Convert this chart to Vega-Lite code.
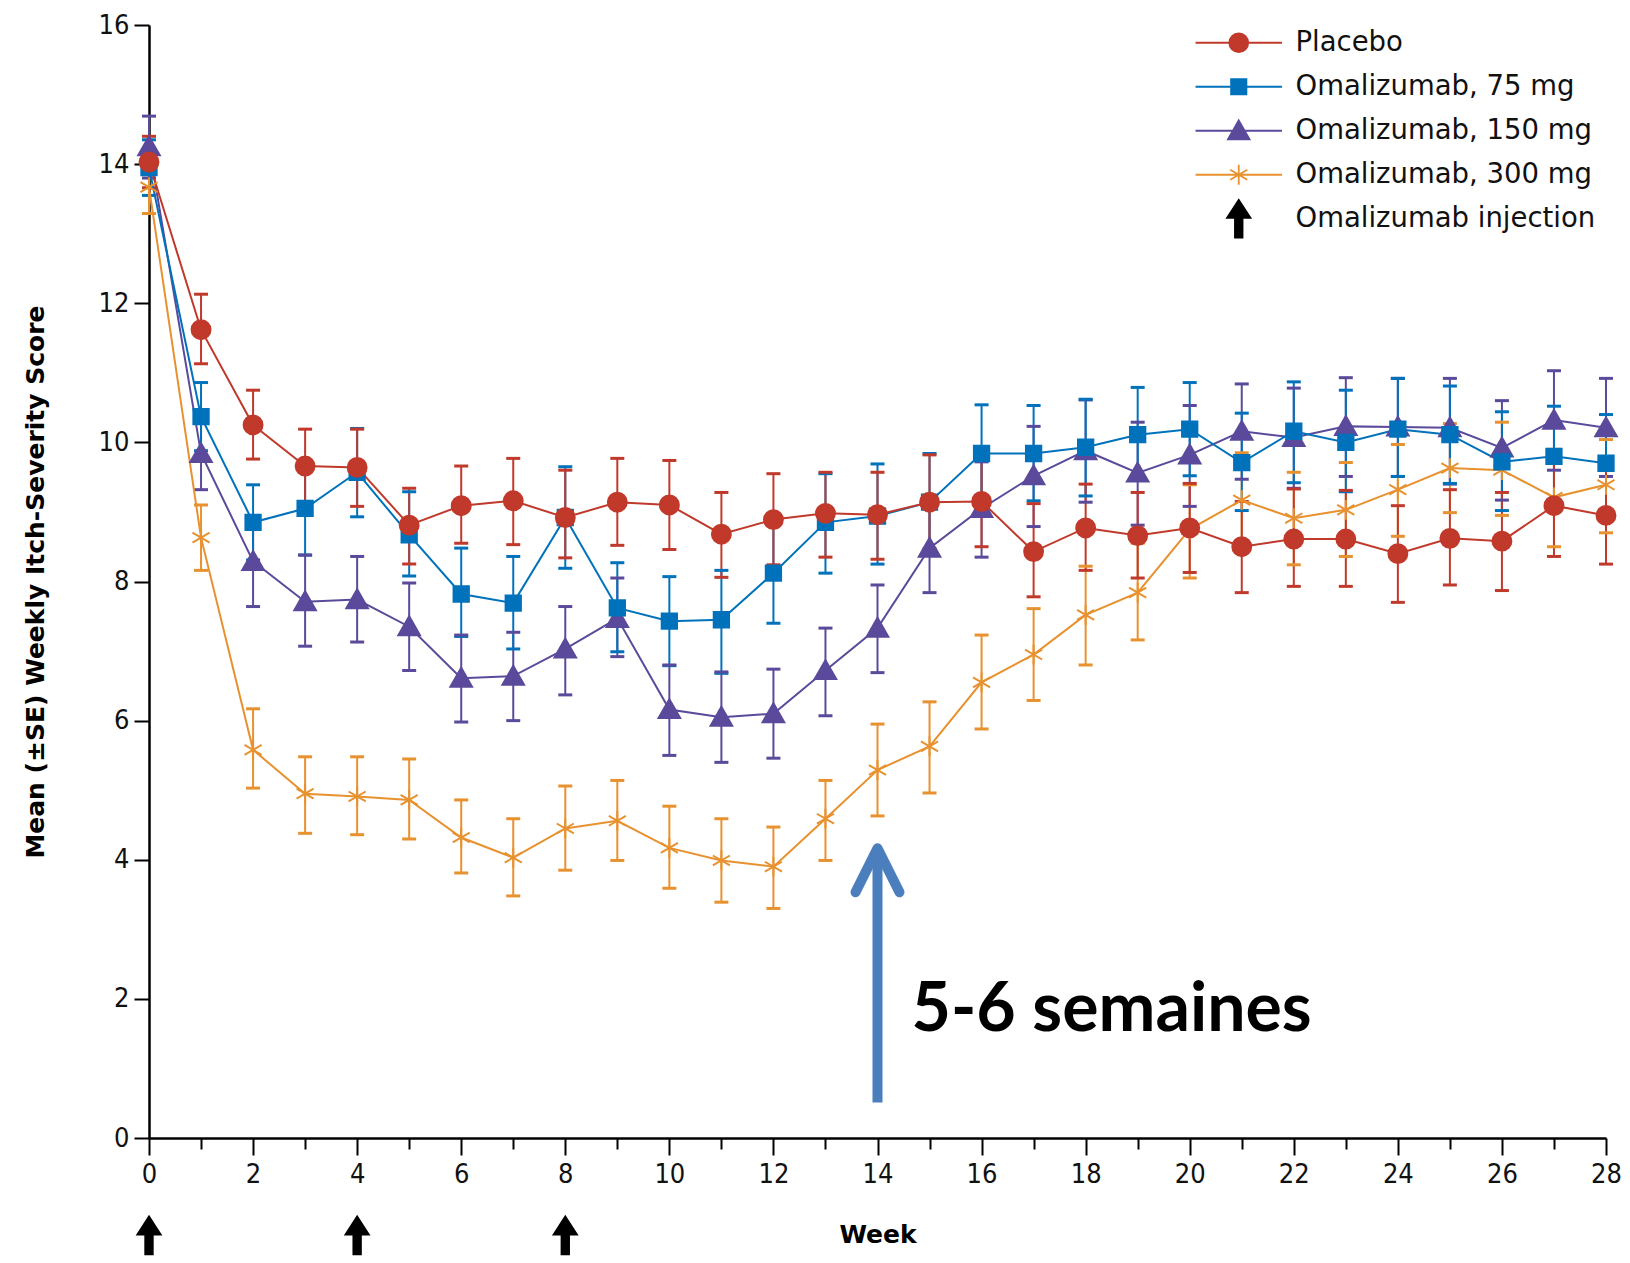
{
  "$schema": "https://vega.github.io/schema/vega-lite/v6.json",
  "width": 1457,
  "height": 1113,
  "autosize": {"type": "none"},
  "padding": {"left": 149, "top": 25, "right": 24, "bottom": 125},
  "background": "white",
  "config": {
    "view": {"stroke": null},
    "font": "DejaVu Sans",
    "axis": {
      "domainColor": "#000000", "domainWidth": 2.5, "tickColor": "#000000", "tickWidth": 2,
      "labelColor": "#111111", "labelFont": "DejaVu Sans Condensed, DejaVu Sans", "labelFontSize": 27,
      "titleFont": "DejaVu Sans", "titleFontWeight": "bold", "titleFontSize": 25, "titleColor": "#000000",
      "grid": false
    }
  },
  "datasets": {
    "d": [
      {"w":0,"g":"Omalizumab, 300 mg","m":13.67,"lo":13.29,"hi":14.05},
      {"w":1,"g":"Omalizumab, 300 mg","m":8.63,"lo":8.16,"hi":9.10},
      {"w":2,"g":"Omalizumab, 300 mg","m":5.58,"lo":5.03,"hi":6.17},
      {"w":3,"g":"Omalizumab, 300 mg","m":4.95,"lo":4.38,"hi":5.48},
      {"w":4,"g":"Omalizumab, 300 mg","m":4.91,"lo":4.36,"hi":5.48},
      {"w":5,"g":"Omalizumab, 300 mg","m":4.86,"lo":4.30,"hi":5.45},
      {"w":6,"g":"Omalizumab, 300 mg","m":4.32,"lo":3.81,"hi":4.86},
      {"w":7,"g":"Omalizumab, 300 mg","m":4.03,"lo":3.48,"hi":4.59},
      {"w":8,"g":"Omalizumab, 300 mg","m":4.45,"lo":3.85,"hi":5.06},
      {"w":9,"g":"Omalizumab, 300 mg","m":4.56,"lo":3.99,"hi":5.14},
      {"w":10,"g":"Omalizumab, 300 mg","m":4.17,"lo":3.59,"hi":4.77},
      {"w":11,"g":"Omalizumab, 300 mg","m":3.99,"lo":3.39,"hi":4.59},
      {"w":12,"g":"Omalizumab, 300 mg","m":3.90,"lo":3.30,"hi":4.47},
      {"w":13,"g":"Omalizumab, 300 mg","m":4.59,"lo":3.99,"hi":5.14},
      {"w":14,"g":"Omalizumab, 300 mg","m":5.29,"lo":4.63,"hi":5.95},
      {"w":15,"g":"Omalizumab, 300 mg","m":5.63,"lo":4.96,"hi":6.27},
      {"w":16,"g":"Omalizumab, 300 mg","m":6.55,"lo":5.88,"hi":7.23},
      {"w":17,"g":"Omalizumab, 300 mg","m":6.95,"lo":6.29,"hi":7.61},
      {"w":18,"g":"Omalizumab, 300 mg","m":7.52,"lo":6.80,"hi":8.22},
      {"w":19,"g":"Omalizumab, 300 mg","m":7.84,"lo":7.16,"hi":8.55},
      {"w":20,"g":"Omalizumab, 300 mg","m":8.75,"lo":8.05,"hi":9.39},
      {"w":21,"g":"Omalizumab, 300 mg","m":9.17,"lo":8.50,"hi":9.85},
      {"w":22,"g":"Omalizumab, 300 mg","m":8.91,"lo":8.24,"hi":9.57},
      {"w":23,"g":"Omalizumab, 300 mg","m":9.03,"lo":8.36,"hi":9.71},
      {"w":24,"g":"Omalizumab, 300 mg","m":9.32,"lo":8.65,"hi":9.97},
      {"w":25,"g":"Omalizumab, 300 mg","m":9.63,"lo":8.99,"hi":10.27},
      {"w":26,"g":"Omalizumab, 300 mg","m":9.60,"lo":8.95,"hi":10.29},
      {"w":27,"g":"Omalizumab, 300 mg","m":9.21,"lo":8.50,"hi":9.90},
      {"w":28,"g":"Omalizumab, 300 mg","m":9.39,"lo":8.70,"hi":10.04},
      {"w":0,"g":"Omalizumab, 150 mg","m":14.25,"lo":13.80,"hi":14.69},
      {"w":1,"g":"Omalizumab, 150 mg","m":9.84,"lo":9.32,"hi":10.36},
      {"w":2,"g":"Omalizumab, 150 mg","m":8.29,"lo":7.64,"hi":8.94},
      {"w":3,"g":"Omalizumab, 150 mg","m":7.71,"lo":7.07,"hi":8.38},
      {"w":4,"g":"Omalizumab, 150 mg","m":7.74,"lo":7.13,"hi":8.36},
      {"w":5,"g":"Omalizumab, 150 mg","m":7.35,"lo":6.72,"hi":7.98},
      {"w":6,"g":"Omalizumab, 150 mg","m":6.61,"lo":5.98,"hi":7.23},
      {"w":7,"g":"Omalizumab, 150 mg","m":6.64,"lo":6.00,"hi":7.27},
      {"w":8,"g":"Omalizumab, 150 mg","m":7.03,"lo":6.37,"hi":7.64},
      {"w":9,"g":"Omalizumab, 150 mg","m":7.47,"lo":6.92,"hi":8.05},
      {"w":10,"g":"Omalizumab, 150 mg","m":6.16,"lo":5.50,"hi":6.80},
      {"w":11,"g":"Omalizumab, 150 mg","m":6.05,"lo":5.40,"hi":6.70},
      {"w":12,"g":"Omalizumab, 150 mg","m":6.10,"lo":5.46,"hi":6.74},
      {"w":13,"g":"Omalizumab, 150 mg","m":6.72,"lo":6.07,"hi":7.33},
      {"w":14,"g":"Omalizumab, 150 mg","m":7.33,"lo":6.69,"hi":7.95},
      {"w":15,"g":"Omalizumab, 150 mg","m":8.48,"lo":7.84,"hi":9.12},
      {"w":16,"g":"Omalizumab, 150 mg","m":9.05,"lo":8.35,"hi":9.72},
      {"w":17,"g":"Omalizumab, 150 mg","m":9.52,"lo":8.79,"hi":10.23},
      {"w":18,"g":"Omalizumab, 150 mg","m":9.88,"lo":9.14,"hi":10.61},
      {"w":19,"g":"Omalizumab, 150 mg","m":9.56,"lo":8.81,"hi":10.29},
      {"w":20,"g":"Omalizumab, 150 mg","m":9.82,"lo":9.08,"hi":10.53},
      {"w":21,"g":"Omalizumab, 150 mg","m":10.16,"lo":9.47,"hi":10.84},
      {"w":22,"g":"Omalizumab, 150 mg","m":10.07,"lo":9.34,"hi":10.78},
      {"w":23,"g":"Omalizumab, 150 mg","m":10.23,"lo":9.51,"hi":10.93},
      {"w":24,"g":"Omalizumab, 150 mg","m":10.22,"lo":9.51,"hi":10.92},
      {"w":25,"g":"Omalizumab, 150 mg","m":10.21,"lo":9.40,"hi":10.92},
      {"w":26,"g":"Omalizumab, 150 mg","m":9.92,"lo":9.17,"hi":10.60},
      {"w":27,"g":"Omalizumab, 150 mg","m":10.32,"lo":9.60,"hi":11.03},
      {"w":28,"g":"Omalizumab, 150 mg","m":10.21,"lo":9.51,"hi":10.92},
      {"w":0,"g":"Omalizumab, 75 mg","m":13.95,"lo":13.55,"hi":14.35},
      {"w":1,"g":"Omalizumab, 75 mg","m":10.37,"lo":9.88,"hi":10.86},
      {"w":2,"g":"Omalizumab, 75 mg","m":8.85,"lo":8.31,"hi":9.39},
      {"w":3,"g":"Omalizumab, 75 mg","m":9.05,"lo":8.38,"hi":9.72},
      {"w":4,"g":"Omalizumab, 75 mg","m":9.57,"lo":8.93,"hi":10.20},
      {"w":5,"g":"Omalizumab, 75 mg","m":8.67,"lo":8.08,"hi":9.29},
      {"w":6,"g":"Omalizumab, 75 mg","m":7.82,"lo":7.21,"hi":8.48},
      {"w":7,"g":"Omalizumab, 75 mg","m":7.69,"lo":7.03,"hi":8.36},
      {"w":8,"g":"Omalizumab, 75 mg","m":8.92,"lo":8.19,"hi":9.65},
      {"w":9,"g":"Omalizumab, 75 mg","m":7.62,"lo":6.99,"hi":8.27},
      {"w":10,"g":"Omalizumab, 75 mg","m":7.43,"lo":6.79,"hi":8.07},
      {"w":11,"g":"Omalizumab, 75 mg","m":7.45,"lo":6.68,"hi":8.16},
      {"w":12,"g":"Omalizumab, 75 mg","m":8.12,"lo":7.40,"hi":8.82},
      {"w":13,"g":"Omalizumab, 75 mg","m":8.85,"lo":8.12,"hi":9.55},
      {"w":14,"g":"Omalizumab, 75 mg","m":8.94,"lo":8.25,"hi":9.69},
      {"w":15,"g":"Omalizumab, 75 mg","m":9.14,"lo":8.45,"hi":9.84},
      {"w":16,"g":"Omalizumab, 75 mg","m":9.84,"lo":9.14,"hi":10.54},
      {"w":17,"g":"Omalizumab, 75 mg","m":9.84,"lo":9.16,"hi":10.53},
      {"w":18,"g":"Omalizumab, 75 mg","m":9.93,"lo":9.23,"hi":10.62},
      {"w":19,"g":"Omalizumab, 75 mg","m":10.11,"lo":9.46,"hi":10.79},
      {"w":20,"g":"Omalizumab, 75 mg","m":10.19,"lo":9.52,"hi":10.86},
      {"w":21,"g":"Omalizumab, 75 mg","m":9.71,"lo":9.02,"hi":10.42},
      {"w":22,"g":"Omalizumab, 75 mg","m":10.16,"lo":9.42,"hi":10.87},
      {"w":23,"g":"Omalizumab, 75 mg","m":10.00,"lo":9.29,"hi":10.75},
      {"w":24,"g":"Omalizumab, 75 mg","m":10.19,"lo":9.51,"hi":10.92},
      {"w":25,"g":"Omalizumab, 75 mg","m":10.11,"lo":9.41,"hi":10.81},
      {"w":26,"g":"Omalizumab, 75 mg","m":9.72,"lo":9.02,"hi":10.44},
      {"w":27,"g":"Omalizumab, 75 mg","m":9.80,"lo":9.10,"hi":10.52},
      {"w":28,"g":"Omalizumab, 75 mg","m":9.70,"lo":9.00,"hi":10.40},
      {"w":0,"g":"Placebo","m":14.03,"lo":13.66,"hi":14.40},
      {"w":1,"g":"Placebo","m":11.62,"lo":11.13,"hi":12.13},
      {"w":2,"g":"Placebo","m":10.25,"lo":9.76,"hi":10.75},
      {"w":3,"g":"Placebo","m":9.66,"lo":9.13,"hi":10.19},
      {"w":4,"g":"Placebo","m":9.64,"lo":9.08,"hi":10.19},
      {"w":5,"g":"Placebo","m":8.81,"lo":8.25,"hi":9.34},
      {"w":6,"g":"Placebo","m":9.09,"lo":8.55,"hi":9.66},
      {"w":7,"g":"Placebo","m":9.16,"lo":8.53,"hi":9.77},
      {"w":8,"g":"Placebo","m":8.92,"lo":8.34,"hi":9.60},
      {"w":9,"g":"Placebo","m":9.14,"lo":8.52,"hi":9.77},
      {"w":10,"g":"Placebo","m":9.10,"lo":8.46,"hi":9.74},
      {"w":11,"g":"Placebo","m":8.68,"lo":8.06,"hi":9.28},
      {"w":12,"g":"Placebo","m":8.89,"lo":8.24,"hi":9.55},
      {"w":13,"g":"Placebo","m":8.98,"lo":8.35,"hi":9.57},
      {"w":14,"g":"Placebo","m":8.96,"lo":8.32,"hi":9.57},
      {"w":15,"g":"Placebo","m":9.14,"lo":8.47,"hi":9.82},
      {"w":16,"g":"Placebo","m":9.15,"lo":8.50,"hi":9.80},
      {"w":17,"g":"Placebo","m":8.43,"lo":7.78,"hi":9.12},
      {"w":18,"g":"Placebo","m":8.77,"lo":8.16,"hi":9.40},
      {"w":19,"g":"Placebo","m":8.66,"lo":8.05,"hi":9.28},
      {"w":20,"g":"Placebo","m":8.77,"lo":8.13,"hi":9.41},
      {"w":21,"g":"Placebo","m":8.50,"lo":7.84,"hi":9.15},
      {"w":22,"g":"Placebo","m":8.61,"lo":7.93,"hi":9.33},
      {"w":23,"g":"Placebo","m":8.61,"lo":7.93,"hi":9.31},
      {"w":24,"g":"Placebo","m":8.40,"lo":7.70,"hi":9.09},
      {"w":25,"g":"Placebo","m":8.62,"lo":7.95,"hi":9.32},
      {"w":26,"g":"Placebo","m":8.58,"lo":7.87,"hi":9.28},
      {"w":27,"g":"Placebo","m":9.09,"lo":8.36,"hi":9.82},
      {"w":28,"g":"Placebo","m":8.95,"lo":8.25,"hi":9.66}
    ],
    "inj": [
      {"w":0,"g":"Omalizumab injection"},
      {"w":4,"g":"Omalizumab injection"},
      {"w":8,"g":"Omalizumab injection"}
    ],
    "note": [
      {"w":14,"t":"5-6 semaines"}
    ]
  },
  "resolve": {"scale": {"fill": "independent", "stroke": "independent", "shape": "independent"}},
  "encoding": {
    "x": {
      "field": "w", "type": "quantitative",
      "scale": {"domain": [0, 28], "nice": false, "zero": false},
      "axis": {
        "values": [0,1,2,3,4,5,6,7,8,9,10,11,12,13,14,15,16,17,18,19,20,21,22,23,24,25,26,27,28],
        "labelExpr": "datum.value % 2 === 0 ? datum.label : ''",
        "tickSize": {"condition": {"test": "datum.value % 2 === 0", "value": 17}, "value": 11},
        "labelOverlap": false, "labelFlush": false, "format": "d",
        "labelPadding": 6, "title": "Week", "titlePadding": 35
      }
    }
  },
  "layer": [
    {
      "data": {"name": "note"},
      "mark": {"type": "rule", "strokeWidth": 10, "color": "#4A7EBD", "strokeCap": "butt"},
      "encoding": {
        "y": {"datum": 0.51, "type": "quantitative", "scale": {"domain": [0, 16], "nice": false}},
        "y2": {"datum": 4.12}
      }
    },
    {
      "data": {"name": "note"},
      "mark": {"type": "point", "shape": "M-1,1L0,-1L1,1", "size": 1936, "filled": false, "stroke": "#4A7EBD", "strokeWidth": 10, "strokeCap": "round", "strokeJoin": "round", "opacity": 1},
      "encoding": {
        "y": {"datum": 3.85, "type": "quantitative", "scale": {"domain": [0, 16], "nice": false}}
      }
    },
    {
      "data": {"name": "note"},
      "mark": {"type": "text", "align": "left", "baseline": "alphabetic", "dx": 34, "font": "Lato", "fontWeight": "bold", "fontSize": 68, "color": "#000000"},
      "encoding": {
        "y": {"datum": 1.535, "type": "quantitative", "scale": {"domain": [0, 16], "nice": false}},
        "text": {"field": "t"}
      }
    },
    {
      "data": {"name": "d"},
      "mark": {"type": "rule", "strokeWidth": 2},
      "encoding": {
        "y": {"field": "lo", "type": "quantitative", "scale": {"domain": [0, 16], "nice": false}},
        "y2": {"field": "hi"},
        "color": {"field": "g", "type": "nominal", "legend": null,
          "scale": {"domain": ["Placebo","Omalizumab, 75 mg","Omalizumab, 150 mg","Omalizumab, 300 mg"],
                    "range": ["#C0392B","#0072BB","#5B4A9B","#E8912F"]}}
      }
    },
    {
      "data": {"name": "d"},
      "mark": {"type": "tick", "orient": "horizontal", "size": 14, "thickness": 3, "opacity": 1},
      "encoding": {
        "y": {"field": "lo", "type": "quantitative", "scale": {"domain": [0, 16], "nice": false}},
        "color": {"field": "g", "type": "nominal", "legend": null}
      }
    },
    {
      "data": {"name": "d"},
      "mark": {"type": "tick", "orient": "horizontal", "size": 14, "thickness": 3, "opacity": 1},
      "encoding": {
        "y": {"field": "hi", "type": "quantitative", "scale": {"domain": [0, 16], "nice": false}},
        "color": {"field": "g", "type": "nominal", "legend": null}
      }
    },
    {
      "data": {"name": "d"},
      "mark": {"type": "line", "strokeWidth": 2},
      "encoding": {
        "y": {"field": "m", "type": "quantitative", "scale": {"domain": [0, 16], "nice": false},
          "axis": {"values": [0,2,4,6,8,10,12,14,16], "format": "d", "tickSize": 15, "labelPadding": 5,
                   "title": "Mean (±SE) Weekly Itch-Severity Score", "titlePadding": 50}},
        "color": {"field": "g", "type": "nominal", "legend": null},
        "detail": {"field": "g"}
      }
    },
    {
      "data": {"name": "d"},
      "mark": {"type": "point", "filled": true, "size": 324, "strokeWidth": 2, "opacity": 1},
      "encoding": {
        "y": {"field": "m", "type": "quantitative", "scale": {"domain": [0, 16], "nice": false}},
        "fill": {"field": "g", "type": "nominal", "legend": null,
          "scale": {"domain": ["Placebo","Omalizumab, 75 mg","Omalizumab, 150 mg","Omalizumab, 300 mg"],
                    "range": ["#C0392B","#0072BB","#5B4A9B","#E8912F"]}},
        "stroke": {"field": "g", "type": "nominal", "legend": null,
          "scale": {"domain": ["Placebo","Omalizumab, 75 mg","Omalizumab, 150 mg","Omalizumab, 300 mg"],
                    "range": ["#C0392B","#0072BB","#5B4A9B","#E8912F"]}},
        "shape": {"field": "g", "type": "nominal", "legend": null,
          "scale": {"domain": ["Placebo","Omalizumab, 75 mg","Omalizumab, 150 mg","Omalizumab, 300 mg"],
                    "range": [
                      "M-1.05,0A1.05,1.05,0,1,0,1.05,0A1.05,1.05,0,1,0,-1.05,0Z",
                      "M-0.85,-0.85H0.85V0.85H-0.85Z",
                      "M0,-1.15L1.2,0.95H-1.2Z",
                      "M0,-1.1V1.1M-0.95,-0.55L0.95,0.55M-0.95,0.55L0.95,-0.55"
                    ]}}
      }
    },
    {
      "data": {"name": "inj"},
      "mark": {"type": "point", "filled": true, "size": 324, "strokeWidth": 1.8, "opacity": 1},
      "encoding": {
        "y": {"datum": -1.4, "type": "quantitative", "scale": {"domain": [0, 16], "nice": false}},
        "fill": {"field": "g", "type": "nominal",
          "scale": {"domain": ["Placebo","Omalizumab, 75 mg","Omalizumab, 150 mg","Omalizumab, 300 mg","Omalizumab injection"],
                    "range": ["#C0392B","#0072BB","#5B4A9B","#E8912F","#000000"]},
          "legend": {
            "title": null, "orient": "none", "legendX": 1076, "legendY": 4,
            "symbolSize": 324, "symbolStrokeWidth": 1.8, "labelFontSize": 27.5, "labelFont": "DejaVu Sans", "labelColor": "#111111",
            "labelOffset": 43, "rowPadding": -2, "gridAlign": "all", "labelLimit": 500
          }
        },
        "stroke": {"field": "g", "type": "nominal",
          "scale": {"domain": ["Placebo","Omalizumab, 75 mg","Omalizumab, 150 mg","Omalizumab, 300 mg","Omalizumab injection"],
                    "range": ["#C0392B","#0072BB","#5B4A9B","#E8912F","#000000"]}},
        "shape": {"field": "g", "type": "nominal",
          "scale": {"domain": ["Placebo","Omalizumab, 75 mg","Omalizumab, 150 mg","Omalizumab, 300 mg","Omalizumab injection"],
                    "range": [
                      "M-4.8,0H4.8M-1.05,0A1.05,1.05,0,1,0,1.05,0A1.05,1.05,0,1,0,-1.05,0Z",
                      "M-4.8,0H4.8M-0.85,-0.85H0.85V0.85H-0.85Z",
                      "M-4.8,0H4.8M0,-1.15L1.2,0.95H-1.2Z",
                      "M-4.8,0H4.8M0,-1.1V1.1M-0.95,-0.55L0.95,0.55M-0.95,0.55L0.95,-0.55",
                      "M-0.42,2.1V-0.1H-1.3L0,-2.1L1.3,-0.1H0.42V2.1Z"
                    ]}}
      }
    }
  ]
}
